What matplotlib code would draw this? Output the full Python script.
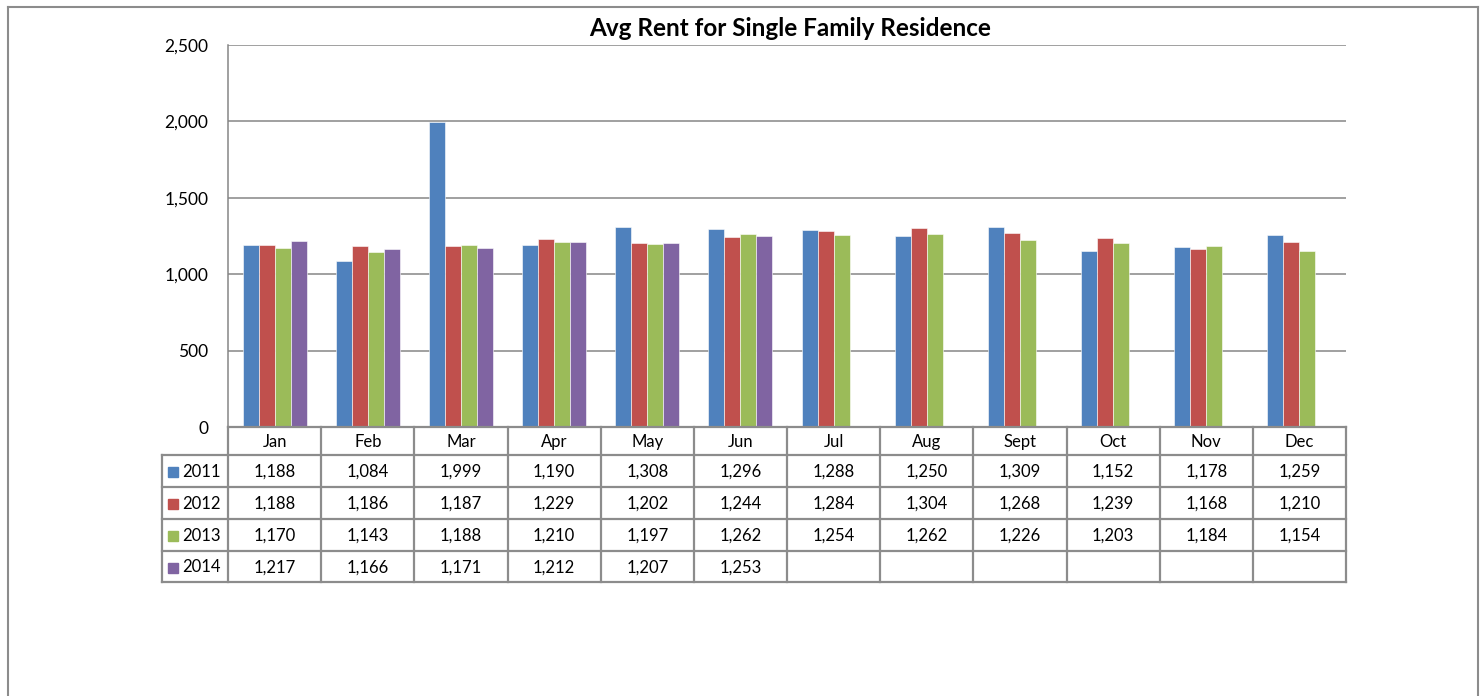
import matplotlib
matplotlib.use("Agg")
import matplotlib.pyplot as plt
from matplotlib.ticker import FuncFormatter

months = ["Jan", "Feb", "Mar", "Apr", "May", "Jun", "Jul", "Aug", "Sept", "Oct", "Nov", "Dec"]
years = ["2011", "2012", "2013", "2014"]
rent_2011 = [1188, 1084, 1999, 1190, 1308, 1296, 1288, 1250, 1309, 1152, 1178, 1259]
rent_2012 = [1188, 1186, 1187, 1229, 1202, 1244, 1284, 1304, 1268, 1239, 1168, 1210]
rent_2013 = [1170, 1143, 1188, 1210, 1197, 1262, 1254, 1262, 1226, 1203, 1184, 1154]
rent_2014 = [1217, 1166, 1171, 1212, 1207, 1253, None, None, None, None, None, None]
series = [rent_2011, rent_2012, rent_2013, rent_2014]
colors = ["#4F81BD", "#C0504D", "#9BBB59", "#8064A2"]
yticks = [0, 500, 1000, 1500, 2000, 2500]

plt.rcParams['font.family'] = ['Lato', 'DejaVu Sans']

W, H = 1484, 696
fig = plt.figure(figsize=(W / 100, H / 100), dpi=100)

# plot area in pixels
L, R, T, B = 228, 1346, 45, 427
ax = fig.add_axes([L / W, 1 - B / H, (R - L) / W, (B - T) / H])
ax.set_xlim(-0.5, 11.5)
ax.set_ylim(0, 2500)
ax.set_yticks(yticks)
ax.yaxis.set_major_formatter(FuncFormatter(lambda v, p: f"{int(v):,}"))
ax.set_xticks([])
ax.tick_params(axis='y', length=0, pad=14, labelsize=12.5)
ax.grid(axis='y', color='#868686', linewidth=1.1)
ax.set_axisbelow(True)
for s in ['top', 'right', 'bottom']:
    ax.spines[s].set_visible(False)
ax.spines['left'].set_color('#868686')
ax.spines['left'].set_linewidth(1.1)

bw = 0.172
for k, (vals, c) in enumerate(zip(series, colors)):
    xs = [i + (k - 1.5) * bw for i, v in enumerate(vals) if v is not None]
    ys = [v for v in vals if v is not None]
    ax.bar(xs, ys, width=bw, color=c, edgecolor='white', linewidth=0.4, zorder=3)

fig.text((L + R) / 2 / W + 3 / W, 1 - 28 / H, "Avg Rent for Single Family Residence",
         ha='center', va='center', fontsize=17.5, fontweight='bold')

# overlay for table and border in pixel coordinates
ov = fig.add_axes([0, 0, 1, 1], facecolor='none')
ov.set_xlim(0, W)
ov.set_ylim(H, 0)
ov.axis('off')

gc = '#8c8c8c'
lw = 1.6
colw = (R - L) / 12
row_y = [427, 455, 487, 519, 551, 582]
leg_x = 162
# horizontal lines
ov.plot([L, R], [row_y[0], row_y[0]], color=gc, lw=lw)
for y in row_y[1:]:
    ov.plot([leg_x, R], [y, y], color=gc, lw=lw)
# vertical lines
for j in range(13):
    x = L + j * colw
    ov.plot([x, x], [row_y[0], row_y[-1]], color=gc, lw=lw)
ov.plot([leg_x, leg_x], [row_y[1], row_y[-1]], color=gc, lw=lw)

fs = 12
for j, m in enumerate(months):
    ov.text(L + (j + 0.5) * colw, (row_y[0] + row_y[1]) / 2 + 1, m,
            ha='center', va='center', fontsize=fs)
for r, (yr, vals, c) in enumerate(zip(years, series, colors)):
    yc = (row_y[r + 1] + row_y[r + 2]) / 2 + 1
    ov.add_patch(plt.Rectangle((168, yc - 5), 10, 10, color=c))
    ov.text(182, yc, yr, ha='left', va='center', fontsize=fs)
    for j, v in enumerate(vals):
        if v is not None:
            ov.text(L + (j + 0.5) * colw, yc, f"{v:,}", ha='center', va='center', fontsize=fs)

# outer chart border
bc = '#8c8c8c'
ov.plot([8, 8], [7, H + 5], color=bc, lw=1.5)
ov.plot([8, 1478], [7, 7], color=bc, lw=1.5)
ov.plot([1478, 1478], [7, H + 5], color=bc, lw=1.5)

fig.savefig("out.png", dpi=100)
